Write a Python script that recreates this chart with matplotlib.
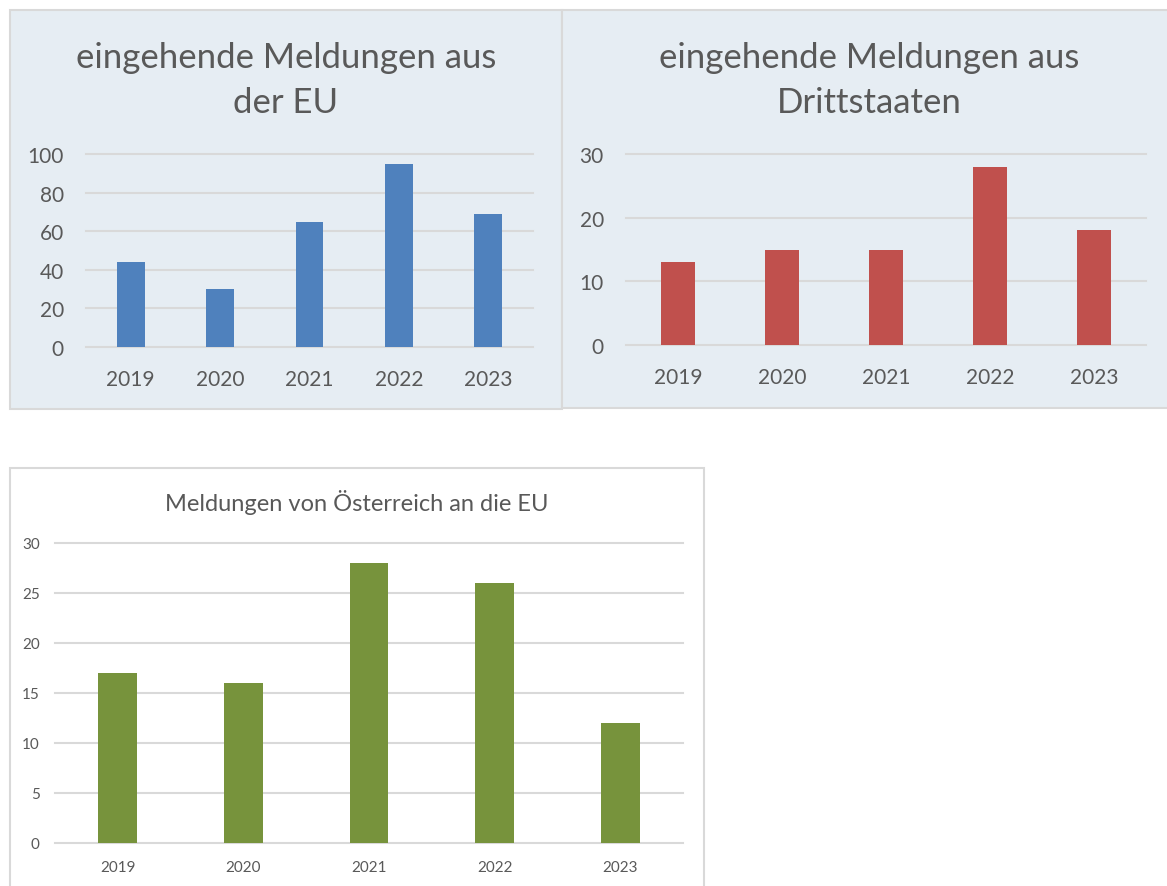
import matplotlib
matplotlib.use("Agg")
import matplotlib.pyplot as plt
from matplotlib.patches import Rectangle

plt.rcParams['font.family'] = ['Lato', 'DejaVu Sans']

years = ['2019', '2020', '2021', '2022', '2023']
eu_in = [44, 30, 65, 95, 69]
third_in = [13, 15, 15, 28, 18]
at_out = [17, 16, 28, 26, 12]

W, H = 1167, 887
TXT = '#595959'
GRID = '#D9D9D9'

fig = plt.figure(figsize=(W / 100, H / 100), dpi=100)


def box(x0, y0, x1, y1, fc):
    fig.patches.append(Rectangle((x0 / W, 1 - y1 / H), (x1 - x0) / W, (y1 - y0) / H,
                                 transform=fig.transFigure, facecolor=fc,
                                 edgecolor=GRID, lw=1.5, zorder=-10))


def panel(x0, y0, x1, y1, vals, color, ymax, step, fs, ypad, xpad, bw):
    ax = fig.add_axes([x0 / W, 1 - y1 / H, (x1 - x0) / W, (y1 - y0) / H])
    ax.set_facecolor('none')
    xs = range(len(years))
    ax.bar(xs, vals, width=bw, color=color, zorder=3)
    ax.set_xlim(-0.5, len(years) - 0.5)
    ax.set_ylim(0, ymax)
    ticks = list(range(0, ymax + 1, step))
    for t in ticks:
        ax.axhline(t, color=GRID, lw=1.5, zorder=1, clip_on=False)
    ax.set_yticks(ticks)
    ax.set_xticks(list(xs))
    ax.set_xticklabels(years)
    ax.tick_params(axis='both', length=0, labelsize=fs, labelcolor=TXT)
    ax.tick_params(axis='y', pad=ypad)
    ax.tick_params(axis='x', pad=xpad)
    for s in ax.spines.values():
        s.set_visible(False)
    return ax


# top left panel
box(10, 11, 562, 410, '#E6EDF3')
panel(86, 155, 533, 348, eu_in, '#4F81BD', 100, 20, 15, 16, 16, 0.31)
fig.text(286 / W, 1 - 68 / H, 'eingehende Meldungen aus', ha='center', va='baseline',
         fontsize=25, color=TXT)
fig.text(286 / W, 1 - 113 / H, 'der EU', ha='center', va='baseline',
         fontsize=25, color=TXT)

# top right panel
box(562, 11, 1175, 409, '#E6EDF3')
panel(626, 155, 1146, 346, third_in, '#C0504D', 30, 10, 15, 16, 16, 0.32)
fig.text(869 / W, 1 - 68 / H, 'eingehende Meldungen aus', ha='center', va='baseline',
         fontsize=25, color=TXT)
fig.text(869 / W, 1 - 113 / H, 'Drittstaaten', ha='center', va='baseline',
         fontsize=25, color=TXT)

# bottom panel
box(10, 469, 704, 900, 'white')
panel(55, 544, 683, 844, at_out, '#77933C', 30, 5, 11, 11, 12, 0.31)
fig.text(357 / W, 1 - 511 / H, 'Meldungen von Österreich an die EU', ha='center',
         va='baseline', fontsize=17, color=TXT)

fig.savefig('out.png', dpi=100)
